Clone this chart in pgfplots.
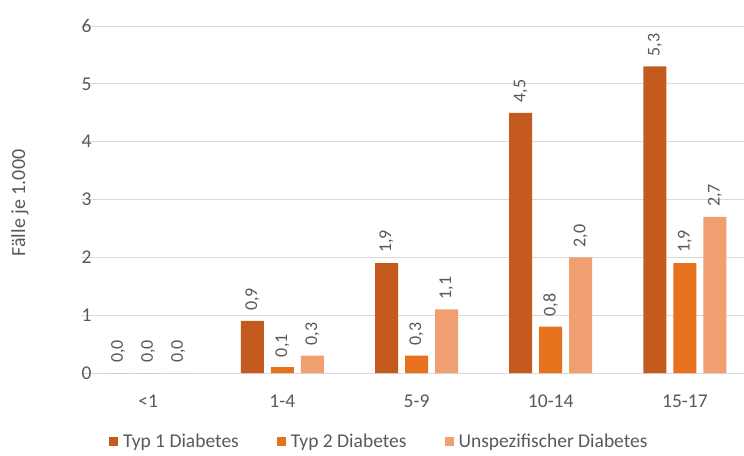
\documentclass[border=0pt]{standalone}
\usepackage{fontspec}
\setmainfont{Carlito}
\usepackage{pgfplots}
\pgfplotsset{compat=1.18}
\definecolor{typeins}{HTML}{C55A1E}
\definecolor{typzwei}{HTML}{E8711E}
\definecolor{unspez}{HTML}{F0A070}
\definecolor{txt}{HTML}{595959}
\definecolor{gridc}{HTML}{D9D9D9}
\pgfplotsset{sqlegend/.style={legend image code/.code={\fill[##1] (0pt,-4.5pt) rectangle (9pt,4.5pt);}}}

\begin{document}
\begin{tikzpicture}
\path[use as bounding box] (-81pt,-82pt) rectangle (663pt,373pt);
\begin{axis}[
  scale only axis, width=663pt, height=347pt,
  at={(0pt,0pt)}, anchor=south west,
  ybar=7pt, bar width=23pt,
  xmin=-0.5, xmax=4.44, ymin=0, ymax=6,
  xtick={0,1,2,3,4},
  xticklabels={{<1},{1-4},{5-9},{10-14},{15-17}},
  ytick={0,1,2,3,4,5,6},
  axis line style={draw=none},
  major tick length=0pt,
  ymajorgrids, grid style={gridc, line width=1pt},
  /pgf/number format/assume math mode=true,
  tick label style={font=\fontsize{19.5}{22}\selectfont, text=txt},
  yticklabel style={xshift=14pt},
  xticklabel style={yshift=-18pt},
  ylabel={Fälle je 1.000},
  ylabel style={at={(axis description cs:-0.092,0.49)}, anchor=center,
                font=\fontsize{20}{22}\selectfont, text=txt},
  nodes near coords={\pgfmathprintnumber[fixed,fixed zerofill,precision=1,use comma]{\pgfplotspointmeta}},
  every node near coord/.append style={rotate=90, anchor=west, inner xsep=10pt,
                inner ysep=0pt, font=\fontsize{18}{20}\selectfont, text=txt},
  legend style={at={(0.45,-0.198)}, anchor=center, legend columns=-1, draw=none,
                fill=none, font=\fontsize{19.5}{22}\selectfont, text=txt,
                /tikz/every odd column/.append style={column sep=3pt},
                /tikz/every even column/.append style={column sep=36pt}},
]
\addplot[fill=typeins, draw=none, sqlegend]
  coordinates {(0,0.0) (1,0.9) (2,1.9) (3,4.5) (4,5.3)};
\addplot[fill=typzwei, draw=none, sqlegend]
  coordinates {(0,0.0) (1,0.1) (2,0.3) (3,0.8) (4,1.9)};
\addplot[fill=unspez, draw=none, sqlegend]
  coordinates {(0,0.0) (1,0.3) (2,1.1) (3,2.0) (4,2.7)};
\legend{Typ 1 Diabetes, Typ 2 Diabetes, Unspezifischer Diabetes}
\end{axis}
\end{tikzpicture}
\end{document}
